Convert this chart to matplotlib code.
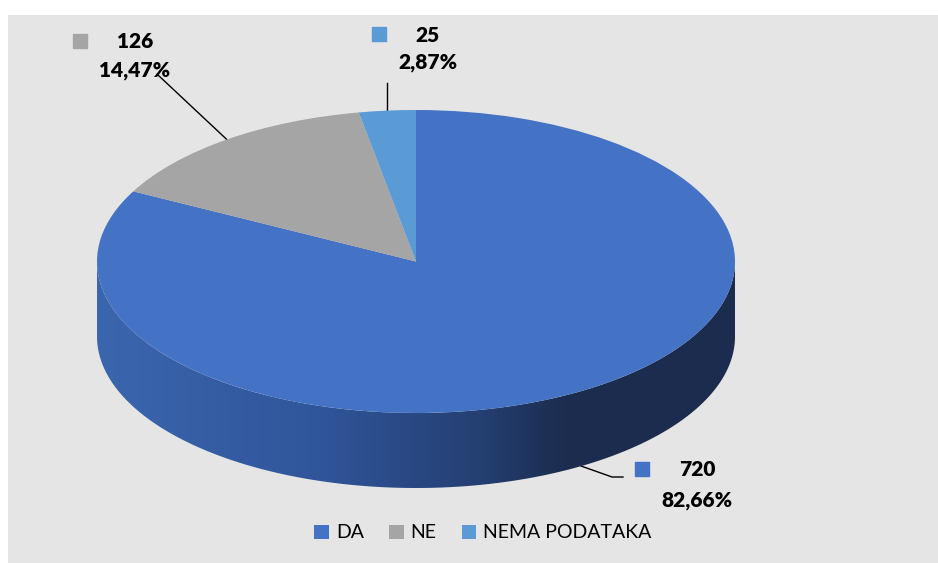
import numpy as np
import matplotlib
matplotlib.use("Agg")
import matplotlib.pyplot as plt
from matplotlib.patches import Rectangle, Polygon
from matplotlib.colors import LinearSegmentedColormap

plt.rcParams['font.family'] = ['Lato', 'DejaVu Sans']

# data
categories = ['DA', 'NE', 'NEMA PODATAKA']
counts = [720, 126, 25]
colors = ['#4472c4', '#a5a5a5', '#5b9bd5']

total = sum(counts)
percents = [c / total * 100 for c in counts]

W, H = 938, 563
fig = plt.figure(figsize=(W / 100, H / 100), dpi=100)

# background axes in pixel units (y down)
ax_bg = fig.add_axes([0, 0, 1, 1])
ax_bg.set_xlim(0, W)
ax_bg.set_ylim(H, 0)
ax_bg.axis('off')
ax_bg.add_patch(Rectangle((8, 15), W - 8, H - 15, facecolor='#e5e5e5', edgecolor='none'))

# pie axes: aspect auto turns the circle into a flat ellipse
depth = 0.495
ax = fig.add_axes([97 / W, 75 / H, 638 / W, 378 / H])
ax.axis('off')

# side of the "3D" pie, drawn first
side_cmap = LinearSegmentedColormap.from_list(
    'side', [(0, '#3b66ae'), (0.35, '#30559a'), (0.6, '#243f72'), (0.73, '#1b2d50'), (1, '#1b2c4e')])
grad = np.linspace(0, 1, 256).reshape(1, -1)

wedges, _ = ax.pie(counts, colors=colors, startangle=90, counterclock=False,
                   wedgeprops=dict(edgecolor='none', zorder=3))

for w in wedges:
    for lo, hi in [(-540, -360), (-180, 0), (180, 360)]:
        a0 = max(w.theta1, lo)
        a1 = min(w.theta2, hi)
        if a1 <= a0:
            continue
        t = np.radians(np.linspace(a0, a1, 200))
        top = np.column_stack([np.cos(t), np.sin(t)])
        bot = np.column_stack([np.cos(t[::-1]), np.sin(t[::-1]) - depth])
        poly = Polygon(np.vstack([top, bot]), closed=True, facecolor='none', edgecolor='none')
        ax.add_patch(poly)
        im = ax.imshow(grad, cmap=side_cmap, extent=(-1, 1, -1 - depth, 0),
                       aspect='auto', zorder=1, interpolation='bilinear')
        im.set_clip_path(poly)

ax.set_aspect('auto')
ax.set_xlim(-1, 1)
ax.set_ylim(-1 - depth, 1)


def pie_to_px(x, y):
    disp = ax.transData.transform((x, y))
    return ax_bg.transData.inverted().transform(disp)


# data labels: (marker x, text center x, value y, percent y)
label_pos = [(642, 697, 470, 500), (80, 135, 42, 70), (379, 428, 35, 63)]
for i, w in enumerate(wedges):
    mx, tx, vy, py = label_pos[i]
    ax_bg.scatter([mx], [vy - 1], marker='s', s=100, color=colors[i], zorder=5)
    ax_bg.text(tx, vy, str(counts[i]), ha='center', va='center',
               fontsize=15, fontweight='heavy', color='black')
    ax_bg.text(tx, py, f"{percents[i]:.2f}%".replace('.', ','), ha='center', va='center',
               fontsize=15, fontweight='heavy', color='black')

# leader lines
mid = [np.radians((w.theta1 + w.theta2) / 2) for w in wedges]
# DA -> from bottom of side, elbow to label
x0, y0 = pie_to_px(np.cos(mid[0]), np.sin(mid[0]) - depth)
ax_bg.plot([x0, 612, 623], [y0, 477, 477], color='black', lw=1)
# NE
x1, y1 = pie_to_px(np.cos(mid[1]), np.sin(mid[1]))
ax_bg.plot([158, x1], [75, y1], color='black', lw=1)
# NEMA PODATAKA
x2, y2 = pie_to_px(np.cos(mid[2]), np.sin(mid[2]))
ax_bg.plot([x2, x2], [83, y2], color='black', lw=1)

leg = fig.legend(wedges, categories, loc='center', bbox_to_anchor=(483 / W, (H - 533) / H),
                 ncol=3, frameon=False, fontsize=14, handlelength=0.75, handleheight=0.75,
                 handletextpad=0.35, columnspacing=1.3, borderaxespad=0)

fig.savefig('out.png', dpi=100)
